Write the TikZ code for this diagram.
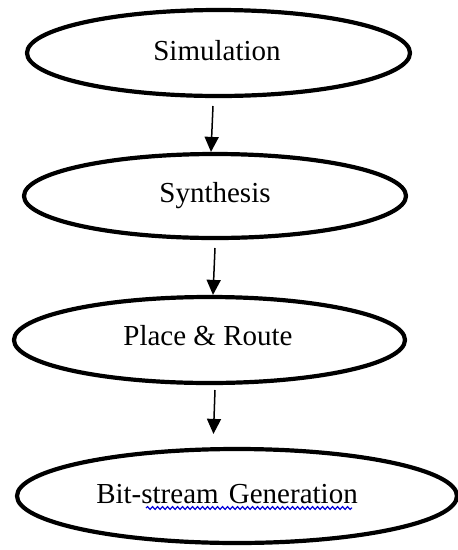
\documentclass[tikz,border=0pt]{standalone}
\usepackage{fontspec}
\setmainfont{Liberation Serif}
\usetikzlibrary{shapes.geometric,arrows.meta,decorations.pathmorphing}
\begin{document}
\begin{tikzpicture}[x=1pt,y=-1pt,
  stage/.style={draw=black, ellipse, line width=4.2pt, inner sep=0pt},
  label/.style={font=\fontsize{29}{32}\selectfont, anchor=base},
  flow/.style={line width=1.5pt, -{Triangle[length=15pt,width=14pt]}},
  squiggle/.style={draw=blue!85!black, line width=1.2pt,
    decorate, decoration={snake, amplitude=1.4pt, segment length=5pt}}]
  \useasboundingbox (0,0) rectangle (458,550);

  % process stages
  \node[stage, minimum width=383pt, minimum height=86pt] (sim) at (218.5,53) {};
  \node[label] (simt) at (217,60) {Simulation};

  \node[stage, minimum width=382pt, minimum height=84pt] (syn) at (215,196) {};
  \node[label] (synt) at (215,202) {Synthesis};

  \node[stage, minimum width=391pt, minimum height=86pt] (par) at (209.5,340) {};
  \node[label] (part) at (208,345) {Place \& Route};

  \node[stage, minimum width=440pt, minimum height=94pt] (bit) at (237,496) {};
  \node[label] (bitt) at (227,503) {Bit-stream\hspace{3pt} Generation};

  % spelling squiggle under the last label
  \coordinate (sqa) at (146,508);
  \coordinate (sqb) at (352,508);
  \path[squiggle] (sqa) -- (sqb);

  % connectors between stages
  \coordinate (a1) at (213,106);
  \coordinate (a2) at (215,248);
  \coordinate (a3) at (215,390);
  \draw[flow] (a1) -- ([xshift=-4pt]syn.north);
  \draw[flow] (a2) -- ([xshift=3.5pt]par.north);
  \draw[flow, shorten >=13pt] (a3) -- ([xshift=-24pt]bit.north);
\end{tikzpicture}
\end{document}
